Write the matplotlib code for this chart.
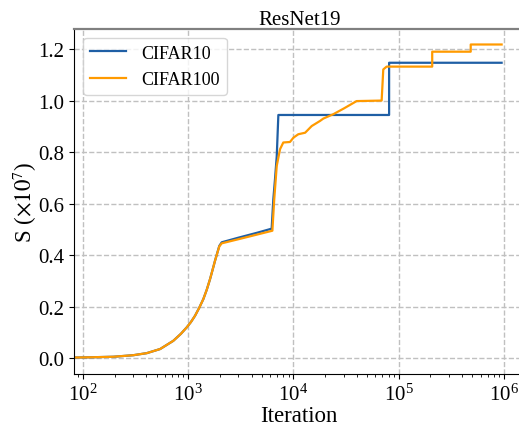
import numpy as np
import matplotlib.pyplot as plt

plt.rcParams['font.family'] = ['Liberation Serif', 'DejaVu Serif']
plt.rcParams['mathtext.fontset'] = 'stix'

# warm-up part (same for both runs), then the jumps
iters_c10 = [82, 120, 194, 300, 403, 540, 721, 850, 966, 1060, 1158, 1270, 1390, 1500, 1611, 1700, 1795,
             1972, 2080, 3000, 4500, 6200,
             6430, 6670, 6930, 7180, 81000, 81000, 950000]
s_c10 = [0.002, 0.003, 0.005, 0.011, 0.019, 0.035, 0.067, 0.094, 0.119, 0.140, 0.164, 0.195, 0.229, 0.266,
         0.307, 0.342, 0.378, 0.436, 0.450, 0.468, 0.487, 0.503,
         0.617, 0.695, 0.784, 0.945, 0.945, 1.148, 1.148]

iters_c100 = [82, 120, 194, 300, 403, 540, 721, 850, 966, 1060, 1158, 1270, 1390, 1500, 1611, 1700, 1795,
              1972, 2080, 3000, 4500, 6300,
              6560, 6930, 7450, 8000, 9260, 10000, 11100, 12900, 14900, 17900, 19200, 23900, 30000, 39800,
              68800, 71300, 76700, 208000, 208000, 483000, 483000, 950000]
s_c100 = [0.002, 0.003, 0.005, 0.011, 0.019, 0.035, 0.067, 0.094, 0.119, 0.140, 0.164, 0.195, 0.229, 0.266,
          0.307, 0.342, 0.378, 0.434, 0.446, 0.462, 0.480, 0.495,
          0.617, 0.747, 0.812, 0.838, 0.840, 0.857, 0.870, 0.876, 0.902, 0.922, 0.931, 0.948, 0.970, 0.999,
          1.001, 1.122, 1.133, 1.133, 1.191, 1.191, 1.219, 1.219]

fig = plt.figure(figsize=(5.19, 4.27), dpi=100)
ax = fig.add_axes([0.1426, 0.1218, 0.868, 0.809])

ax.plot(iters_c10, s_c10, color='#1f5fa5', lw=1.6, label='CIFAR10')
ax.plot(iters_c100, s_c100, color='#ff9a00', lw=1.6, label='CIFAR100')
ax.set_xscale('log')
ax.set_xlim(82.1, 1.567e6)
ax.set_ylim(-0.062, 1.281)
ax.set_yticks([0.0, 0.2, 0.4, 0.6, 0.8, 1.0, 1.2])
ax.set_yticklabels(['0.0', '0.2', '0.4', '0.6', '0.8', '1.0', '1.2'])
ax.grid(True, linestyle='--', color='#c0c0c0', lw=1)
ax.tick_params(labelsize=15)

ax.spines['top'].set_color('#808080')
ax.spines['top'].set_linewidth(1.6)
ax.spines['right'].set_visible(False)

ax.set_title('ResNet19', fontsize=15, pad=3)
ax.set_xlabel('Iteration', fontsize=16.5, labelpad=0)
ax.set_ylabel(r'S ($\times10^7$)', fontsize=16.5)
ax.yaxis.set_label_coords(-0.078, 0.5)
ax.legend(loc='upper left', fontsize=13)

fig.savefig('out.png', dpi=100)
